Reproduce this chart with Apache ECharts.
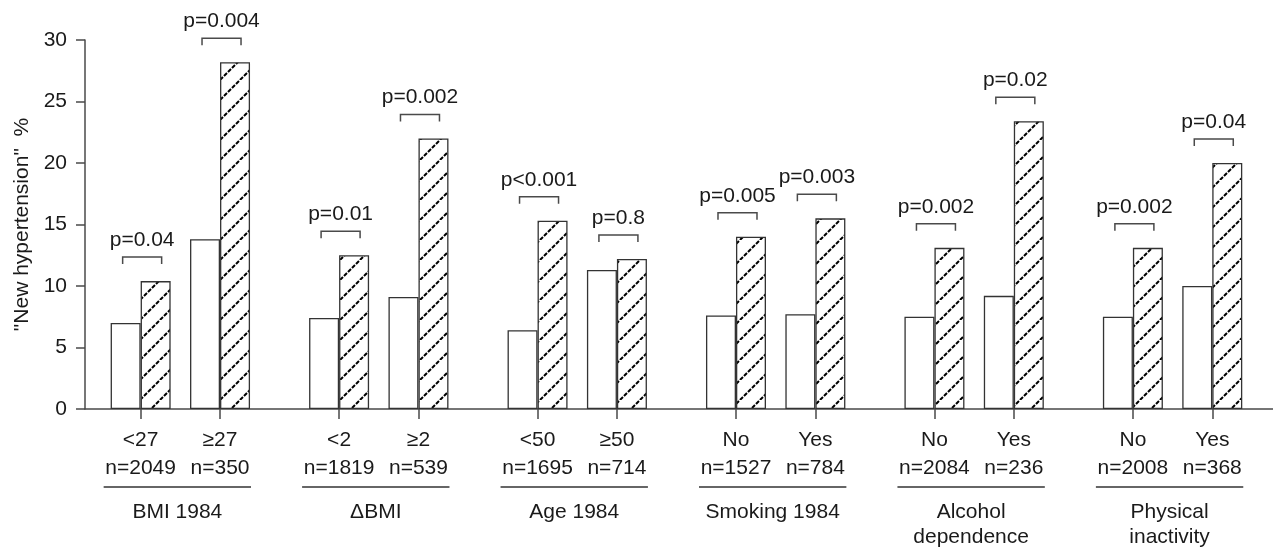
<!DOCTYPE html>
<html>
<head>
<meta charset="utf-8">
<script src="https://cdn.jsdelivr.net/npm/echarts@6/dist/echarts.min.js"></script>
<style>
html,body{margin:0;padding:0;background:#fff;}
#chart{width:1273px;height:548px;}
</style>
</head>
<body>
<div id="chart"></div>
<script>
// ---- data ----
const groupNames = ['BMI 1984', '\u0394BMI', 'Age 1984', 'Smoking 1984', 'Alcohol\ndependence', 'Physical\ninactivity'];
const categories = ['<27', '\u226527', '<2', '\u22652', '<50', '\u226550', 'No', 'Yes', 'No', 'Yes', 'No', 'Yes'];
const sampleSizes = ['n=2049', 'n=350', 'n=1819', 'n=539', 'n=1695', 'n=714', 'n=1527', 'n=784', 'n=2084', 'n=236', 'n=2008', 'n=368'];
const whiteValues = [7.0, 13.8, 7.4, 9.1, 6.4, 11.3, 7.6, 7.7, 7.5, 9.2, 7.5, 10.0];
const hatchedValues = [10.4, 28.2, 12.5, 22.0, 15.3, 12.2, 14.0, 15.5, 13.1, 23.4, 13.1, 20.0];
const pValues = ['p=0.04', 'p=0.004', 'p=0.01', 'p=0.002', 'p<0.001', 'p=0.8', 'p=0.005', 'p=0.003', 'p=0.002', 'p=0.02', 'p=0.002', 'p=0.04'];
const yMin = 0, yMax = 30, yInterval = 5;

// ---- layout helpers (slot index of each category: pairs inside groups) ----
const pos = i => 5 * Math.floor(i / 2) + 2 * (i % 2);
const positions = categories.map((_, i) => pos(i));
const labelByPos = {};
categories.forEach((c, i) => { labelByPos[positions[i]] = c + '\n' + sampleSizes[i]; });

const FONT = '"Liberation Sans", Arial, Helvetica, sans-serif';
const TEXT = '#1a1a1a';
const AXIS = '#4a4a4a';

function makeHatch() {
  const s = 20;
  const c = document.createElement('canvas');
  c.width = s; c.height = s;
  const ctx = c.getContext('2d');
  ctx.fillStyle = '#fff';
  ctx.fillRect(0, 0, s, s);
  ctx.strokeStyle = '#000';
  ctx.lineWidth = 2;
  ctx.setLineDash([4.2, 1.46]);
  [-s, 0, s].forEach(o => {
    ctx.beginPath();
    ctx.moveTo(o, s);
    ctx.lineTo(o + s, 0);
    ctx.stroke();
  });
  return c;
}

const chart = echarts.init(document.getElementById('chart'), null, { renderer: 'canvas' });

const option = {
  animation: false,
  backgroundColor: '#fff',
  grid: { left: 85, right: 0, top: 40, bottom: 139, containLabel: false },
  xAxis: {
    type: 'value',
    min: -1.402,
    max: 28.53,
    splitLine: { show: false },
    axisLine: { show: true, onZero: false, lineStyle: { color: AXIS, width: 1.5 } },
    axisTick: { show: true, customValues: positions, length: 10, inside: false, lineStyle: { color: AXIS, width: 1.5 } },
    axisLabel: {
      show: true,
      customValues: positions,
      formatter: v => labelByPos[Math.round(v)] || '',
      margin: 17,
      lineHeight: 28,
      fontSize: 21,
      fontFamily: FONT,
      color: TEXT
    }
  },
  yAxis: {
    type: 'value',
    min: yMin,
    max: yMax,
    interval: yInterval,
    name: '"New hypertension"  %',
    nameLocation: 'middle',
    nameGap: 52,
    nameTextStyle: { fontSize: 21, fontFamily: FONT, color: TEXT },
    splitLine: { show: false },
    axisLine: { show: true, onZero: false, lineStyle: { color: AXIS, width: 1.5 } },
    axisTick: { show: true, length: 9, lineStyle: { color: AXIS, width: 1.5 } },
    axisLabel: { margin: 18, fontSize: 21, fontFamily: FONT, color: TEXT }
  },
  series: [
    {
      type: 'bar',
      barWidth: 30,
      barGap: '0%',
      data: whiteValues.map((v, i) => [positions[i], v]),
      itemStyle: { color: '#fff', borderColor: '#333', borderWidth: 1.3 }
    },
    {
      type: 'bar',
      barWidth: 30,
      barGap: '0%',
      data: hatchedValues.map((v, i) => [positions[i], v]),
      itemStyle: { color: { image: makeHatch(), repeat: 'repeat' }, borderColor: '#333', borderWidth: 1.3 }
    },
    {
      type: 'custom',
      clip: false,
      silent: true,
      data: positions.map((p, i) => [p, Math.max(whiteValues[i], hatchedValues[i])]),
      renderItem: (params, api) => {
        const c = api.coord([api.value(0), api.value(1)]);
        const by = c[1] - 24;
        const x1 = c[0] - 18, x2 = c[0] + 21;
        return {
          type: 'group',
          children: [
            { type: 'polyline', shape: { points: [[x1, by + 7], [x1, by], [x2, by], [x2, by + 7]] },
              style: { stroke: AXIS, lineWidth: 1.5, fill: null } },
            { type: 'text', style: { text: pValues[params.dataIndex], x: c[0] + 1.5, y: by - 17,
              align: 'center', verticalAlign: 'middle', fontSize: 21, fontFamily: FONT, fill: TEXT } }
          ]
        };
      }
    },
    {
      type: 'custom',
      clip: false,
      silent: true,
      data: groupNames.map((g, k) => [positions[2 * k], positions[2 * k + 1]]),
      renderItem: (params, api) => {
        const a = api.coord([api.value(0), 0]);
        const b = api.coord([api.value(1), 0]);
        const ly = a[1] + 78;
        const cx = (a[0] + b[0]) / 2 - 3;
        return {
          type: 'group',
          children: [
            { type: 'line', shape: { x1: a[0] - 37, y1: ly, x2: b[0] + 31, y2: ly },
              style: { stroke: '#333', lineWidth: 1.5 } },
            { type: 'text', style: { text: groupNames[params.dataIndex], x: cx, y: ly + 13,
              align: 'center', verticalAlign: 'top', lineHeight: 25, fontSize: 21, fontFamily: FONT, fill: TEXT } }
          ]
        };
      }
    }
  ]
};
chart.setOption(option);
</script>
</body>
</html>
